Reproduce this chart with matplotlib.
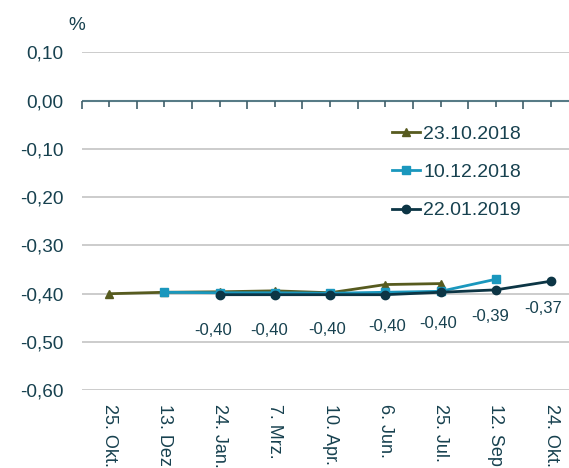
import matplotlib
matplotlib.use("Agg")
import matplotlib.pyplot as plt
import numpy as np

plt.rcParams['font.family'] = ['Liberation Sans', 'DejaVu Sans']

# ECB meeting dates (categories on the x axis)
dates = ["25. Okt.", "13. Dez.", "24. Jan.", "7. Mrz.", "10. Apr.",
         "6. Jun.", "25. Jul.", "12. Sep.", "24. Okt."]

# Market-implied deposit rate path, by observation date (%)
curve_231018 = [-0.400, -0.397, -0.396, -0.394, -0.398, -0.381, -0.379]
curve_101218 = [-0.397, -0.398, -0.398, -0.399, -0.397, -0.395, -0.370]
curve_220119 = [-0.402, -0.402, -0.402, -0.402, -0.397, -0.392, -0.374]

series_labels = ["23.10.2018", "10.12.2018", "22.01.2019"]
yticks = [0.10, 0.00, -0.10, -0.20, -0.30, -0.40, -0.50, -0.60]

text_col = "#17414f"
olive = "#575b1f"
cyan = "#1a97bd"
navy = "#0c3545"

W, H = 569, 468
fig = plt.figure(figsize=(W / 100, H / 100), dpi=100)
# plot area runs slightly past the right edge of the canvas
left_px, right_px, top_px, bot_px = 81.5, 578.7, 52.3, 390.3
ax = fig.add_axes([left_px / W, 1 - bot_px / H,
                   (right_px - left_px) / W, (bot_px - top_px) / H])

x_all = np.arange(len(dates))
ax.set_xlim(-0.5, len(dates) - 0.5)
ax.set_ylim(-0.60, 0.10)

# horizontal grid
for v in yticks:
    if abs(v) < 1e-9:
        continue
    ax.axhline(v, color="#c8c8c8", lw=1.3, zorder=1)
ax.axhline(0.0, color="#577b86", lw=1.5, zorder=2)
# tick marks hanging from the zero line: long at category borders,
# short at category centres
borders = np.arange(len(dates) + 1) - 0.5
ax.plot(borders, np.zeros_like(borders), ls="none", marker=3,
        ms=6, mew=1.2, color="#3f5f6a", zorder=2, clip_on=False)
ax.plot(x_all, np.zeros_like(x_all, dtype=float), ls="none", marker=3,
        ms=4.5, mew=1.2, color="#3f5f6a", zorder=2, clip_on=False)

ax.plot(x_all[0:7], curve_231018, color=olive, lw=2, marker="^", ms=6,
        label=series_labels[0], zorder=3)
ax.plot(x_all[1:8], curve_101218, color=cyan, lw=2, marker="s", ms=5.5,
        label=series_labels[1], zorder=4)
ax.plot(x_all[2:9], curve_220119, color=navy, lw=2, marker="o", ms=6,
        label=series_labels[2], zorder=5)

# value labels for the latest curve (offsets in points)
label_dx = [-5, -4, -2, 1, -2, -4, -6]
label_dy = [-26, -25.5, -25, -23, -22.5, -19.5, -20]
for xi, v, dx, dy in zip(x_all[2:9], curve_220119, label_dx, label_dy):
    ax.annotate(f"{v:.2f}".replace(".", ","), (xi, v), xytext=(dx, dy),
                textcoords="offset points", ha="center", va="center",
                fontsize=12, color=text_col, zorder=6)

for s in ax.spines.values():
    s.set_visible(False)

ax.set_yticks(yticks)
ax.set_yticklabels([f"{v:.2f}".replace(".", ",") for v in yticks],
                   fontsize=13.7, color=text_col)
ax.set_xticks(x_all)
ax.set_xticklabels(dates, rotation=-90, fontsize=13, color=text_col,
                   va="top", ha="center")
ax.tick_params(axis="y", length=0, pad=13)
ax.tick_params(axis="x", length=0, pad=10)

fig.text(77 / W, 1 - 25 / H, "%", fontsize=13.7, color=text_col,
         ha="center", va="center")

leg = ax.legend(loc="upper left", bbox_to_anchor=(392 / W, 1 - 125 / H),
                bbox_transform=fig.transFigure, frameon=False, fontsize=14,
                handlelength=1.45, handletextpad=0.15, labelspacing=1.07,
                borderaxespad=0, borderpad=0)
for t in leg.get_texts():
    t.set_color(text_col)

fig.savefig("out.png", dpi=100)
